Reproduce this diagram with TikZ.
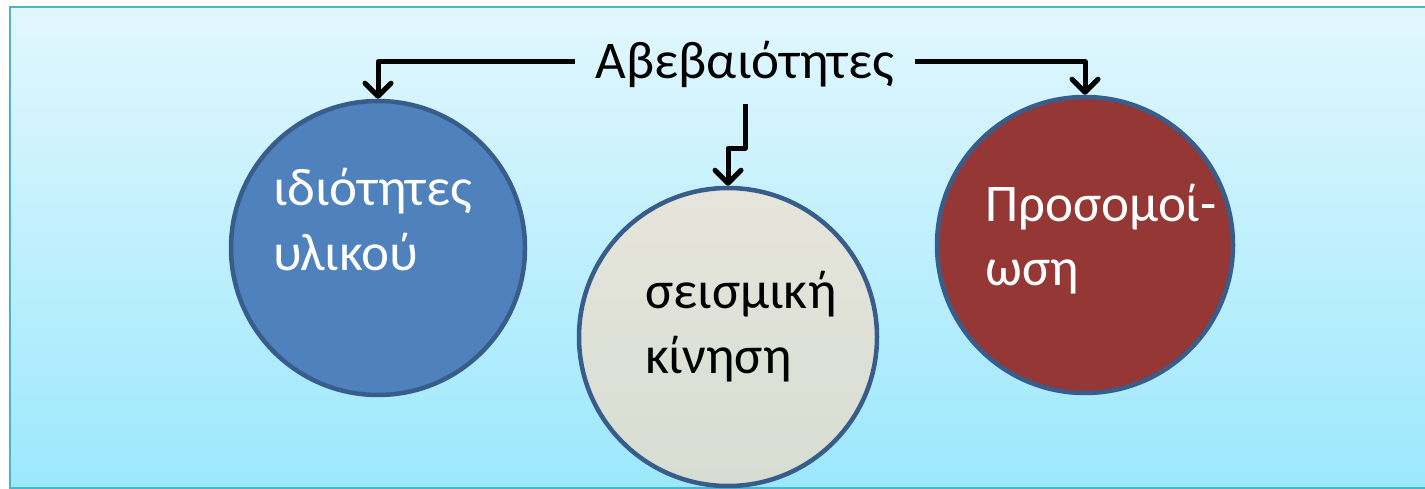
\documentclass[tikz,border=0pt]{standalone}
\usepackage{fontspec}
\setmainfont{Carlito}
\usetikzlibrary{arrows.meta}
\definecolor{bgtop}{RGB}{226,247,254}
\definecolor{bgbot}{RGB}{156,232,252}
\definecolor{bgline}{RGB}{75,180,205}
\definecolor{bluefill}{RGB}{79,129,189}
\definecolor{ringblue}{RGB}{56,93,138}
\definecolor{redfill}{RGB}{149,55,53}
\definecolor{greytop}{RGB}{230,229,220}
\definecolor{greybot}{RGB}{215,221,210}
\tikzset{
  bubble/.style={circle, draw=ringblue, line width=4.5pt, inner sep=0pt},
  bubbletext/.style={anchor=base west, align=left, inner sep=0pt,
     font=\fontsize{53}{65}\selectfont},
  link/.style={line width=5pt, line join=round, draw=black,
     -{Straight Barb[length=13pt,width=26pt,line width=5pt,round]}},
}
\begin{document}
\begin{tikzpicture}[x=1pt,y=-1pt]
\useasboundingbox (0,0) rectangle (1425,489);
\fill[white] (0,0) rectangle (1425,489);
\begin{scope}
\clip (0,0) rectangle (1425,489);
\shade[top color=bgtop, bottom color=bgbot, draw=bgline, line width=1.5pt]
  (10,7) rectangle (1440,488);
\end{scope}
\node[bubble, fill=bluefill, minimum size=294pt] (c1) at (378,248) {};
\node[bubble, top color=greytop, bottom color=greybot, minimum size=298pt] (c2) at (728,337) {};
\node[bubble, fill=redfill, minimum size=296pt] (c3) at (1085,245) {};
\node[inner xsep=21pt, inner ysep=25pt, text height=34pt, text depth=0pt,
      anchor=base, font=\fontsize{53}{65}\selectfont] (title) at (745,79) {Αβεβαιότητες};
\node[bubbletext, text=white] (t1) at ([shift={(-105,22)}]c1.center) {ιδιότητες\\υλικού};
\node[bubbletext, text=black] (t2) at ([shift={(-83,36)}]c2.center) {σεισμική\\κίνηση};
\node[bubbletext, text=white] (t3) at ([shift={(-100,41)}]c3.center) {Προσομοί-\\ωση};
\draw[link] (title.west) -| (c1.north);
\draw[link] (title.east) -| (c3.north);
\draw[link] (title.south) -- ++(0,44) -| (c2.north);
\end{tikzpicture}
\end{document}
